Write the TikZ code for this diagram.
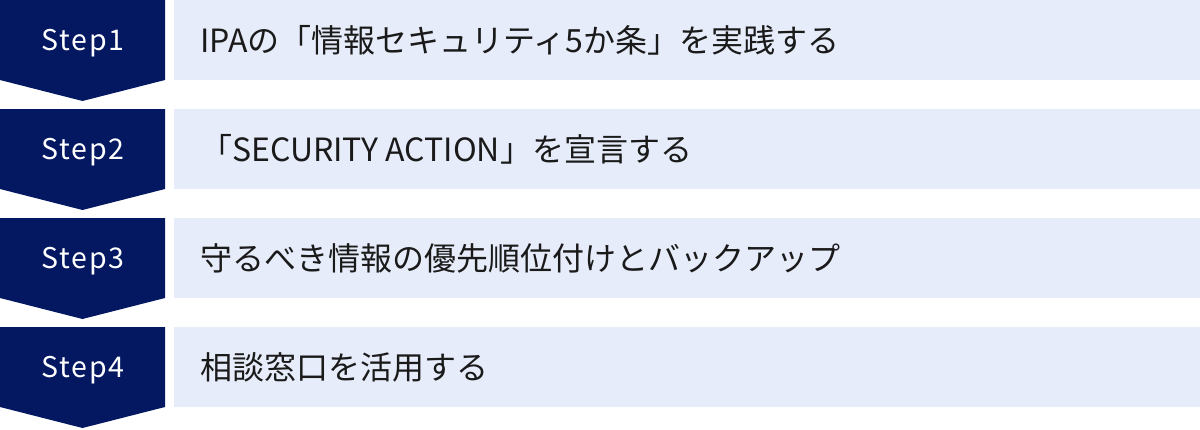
\documentclass[tikz,border=0pt]{standalone}
\usepackage{fontspec}
\newfontfamily\jp{Noto Sans CJK JP}
\newfontfamily\jpstep[LetterSpace=6]{Noto Sans CJK JP}
\definecolor{navy}{HTML}{041862}
\definecolor{lightbox}{HTML}{E6ECF9}
\definecolor{ink}{HTML}{1A1A1A}
\begin{document}
\begin{tikzpicture}[x=1pt,y=-1pt,
  stepshape/.style={fill=navy,draw=none},
  textbox/.style={fill=lightbox,draw=none},
  steplabel/.style={text=white,font=\jpstep\fontsize{28.5}{33}\selectfont,inner sep=0pt},
  mainlabel/.style={text=ink,font=\jp\fontsize{32}{36}\selectfont,anchor=west,inner sep=0pt}]
\useasboundingbox (0,0) rectangle (1200,429);
\foreach \i/\lab/\txt in {0/Step1/{IPAの「情報セキュリティ5か条」を実践する},
                          1/Step2/{「SECURITY ACTION」を宣言する},
                          2/Step3/{守るべき情報の優先順位付けとバックアップ},
                          3/Step4/{相談窓口を活用する}}{
  \pgfmathsetmacro{\t}{109*\i}
  \fill[stepshape] (0,\t) -- (165,\t) -- (165,\t+80) -- (82.5,\t+101) -- (0,\t+80) -- cycle;
  \node[textbox,minimum width=1026pt,minimum height=80pt,inner sep=0pt,anchor=north west] (box\i) at (174,\t) {};
  \node[steplabel] (step\i) at (83,\t+43) {\lab};
  \node[mainlabel] (text\i) at (200,\t+40) {\txt};
}
\end{tikzpicture}
\end{document}
